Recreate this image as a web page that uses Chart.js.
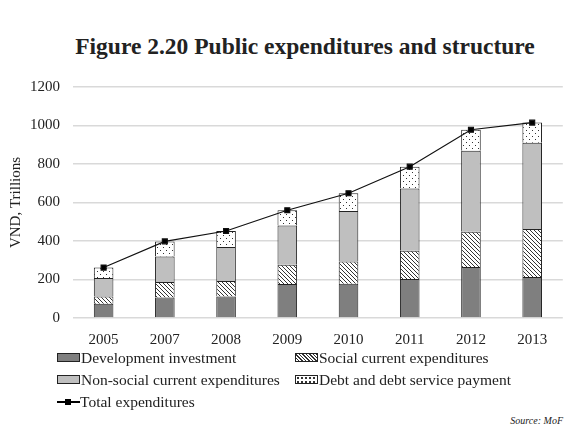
<!DOCTYPE html>
<html>
<head>
<meta charset="utf-8">
<script src="https://cdn.jsdelivr.net/npm/chart.js@4.4.0/dist/chart.umd.min.js"></script>
<style>
  body { margin: 0; background: #fff; }
  #wrap { position: relative; width: 568px; height: 436px; font-family: "Liberation Serif", serif; color: #222; }
  #title { position: absolute; top: 33px; left: 0; width: 610px; text-align: center; font-weight: bold; font-size: 23.5px; }
  #box { position: absolute; left: 0; top: 60px; width: 568px; height: 300px; }
  .leg { position: absolute; font-size: 15.5px; line-height: 18px; white-space: nowrap; }
  .sw { display: inline-block; width: 21px; height: 7px; border: 1px solid #222; vertical-align: 1px; margin-right: 1px; }
  .dev { background: #7f7f7f; }
  .non { background: #bfbfbf; }
  .soc { background: repeating-linear-gradient(45deg, #fff 0 1.5px, #333 1.5px 2.5px); }
  .debt { background-color: #fff; background-image: radial-gradient(#333 0.8px, transparent 1px); background-size: 4px 4px; }
  .ln { display: inline-block; width: 23px; height: 8px; position: relative; vertical-align: 1px; }
  .ln:before { content: ""; position: absolute; left: 0; right: 0; top: 3px; height: 1.5px; background: #000; }
  .ln:after { content: ""; position: absolute; left: 8px; top: 1px; width: 6px; height: 6px; background: #000; }
  #src { position: absolute; right: 5px; top: 415px; font-size: 10px; font-style: italic; }
</style>
</head>
<body>
<div id="wrap">
  <div id="title">Figure 2.20 Public expenditures and structure</div>
  <div id="box"><canvas id="chart"></canvas></div>
  <div class="leg" style="left:57px;top:349px"><span class="sw dev"></span>Development investment</div>
  <div class="leg" style="left:295px;top:349px"><span class="sw soc"></span>Social current expenditures</div>
  <div class="leg" style="left:57px;top:371px"><span class="sw non"></span>Non-social current expenditures</div>
  <div class="leg" style="left:295px;top:371px"><span class="sw debt"></span>Debt and debt service payment</div>
  <div class="leg" style="left:57px;top:393px"><span class="ln"></span>Total expenditures</div>
  <div id="src">Source: MoF</div>
</div>
<script>
// données (VND, trillions)
const years = ['2005', '2007', '2008', '2009', '2010', '2011', '2012', '2013'];
const devInvestment = [74, 107, 112, 177, 178, 202, 265, 213];
const socialCurrent = [38, 80, 80, 100, 116, 148, 183, 249];
const nonSocialCurrent = [96, 133, 177, 204, 262, 323, 421, 449];
const debtService = [54, 78, 83, 79, 92, 113, 109, 104];
const totalExp = [262, 398, 452, 560, 648, 786, 978, 1015];
const yTicks = [0, 200, 400, 600, 800, 1000, 1200];

function makePattern(kind) {
    const c = document.createElement('canvas');
    const size = kind === 'hatch' ? 4 : 6;
    c.width = size;
    c.height = size;
    const g = c.getContext('2d');
    g.fillStyle = '#fff';
    g.fillRect(0, 0, size, size);
    if (kind === 'hatch') {
        g.strokeStyle = '#333';
        g.lineWidth = 1;
        g.beginPath();
        g.moveTo(-1, -1); g.lineTo(size + 1, size + 1);
        g.moveTo(-1, size - 1); g.lineTo(1, size + 1);
        g.moveTo(size - 1, -1); g.lineTo(size + 1, 1);
        g.stroke();
    } else {
        g.fillStyle = '#333';
        g.fillRect(1, 1, 1, 1);
        g.fillRect(4, 4, 1, 1);
    }
    return g.createPattern(c, 'repeat');
}

const serif = { family: '"Liberation Serif", serif', size: 15 };

function barSet(label, data, color) {
    return {
        type: 'bar',
        label: label,
        data: data,
        backgroundColor: color,
        borderColor: '#222',
        borderWidth: 1,
        stack: 'exp',
        order: 1,
        categoryPercentage: 1,
        barPercentage: 0.32
    };
}

new Chart(document.getElementById('chart').getContext('2d'), {
    data: {
        labels: years,
        datasets: [
            {
                type: 'line',
                label: 'Total expenditures',
                data: totalExp,
                borderColor: '#111',
                backgroundColor: '#000',
                borderWidth: 1.2,
                pointStyle: 'rect',
                pointRadius: 3.5,
                stack: 'total',
                order: 0
            },
            barSet('Development investment', devInvestment, '#7f7f7f'),
            barSet('Social current expenditures', socialCurrent, makePattern('hatch')),
            barSet('Non-social current expenditures', nonSocialCurrent, '#bfbfbf'),
            barSet('Debt and debt service payment', debtService, makePattern('dots'))
        ]
    },
    options: {
        responsive: true,
        maintainAspectRatio: false,
        animation: false,
        layout: { padding: { top: 27, right: 0, bottom: 10, left: 0 } },
        plugins: {
            legend: { display: false },
            tooltip: { enabled: false }
        },
        scales: {
            x: {
                stacked: true,
                grid: { display: false },
                border: { display: false },
                ticks: { color: '#222', font: serif, padding: 5, maxRotation: 0 },
                afterFit: scale => { scale.height = 32; }
            },
            y: {
                stacked: true,
                min: 0,
                max: 1200,
                afterBuildTicks: scale => { scale.ticks = yTicks.map(v => ({ value: v })); },
                grid: { color: '#d9d9d9', lineWidth: 1.5, drawTicks: false },
                border: { display: false },
                ticks: { color: '#222', font: serif, padding: 13, callback: v => String(v) },
                title: {
                    display: true,
                    text: 'VND, Trillions',
                    color: '#222',
                    font: { family: '"Liberation Serif", serif', size: 15 },
                    padding: { top: 7, bottom: 0 }
                },
                afterFit: scale => { scale.width = 73; }
            }
        }
    }
});
</script>
</body>
</html>
